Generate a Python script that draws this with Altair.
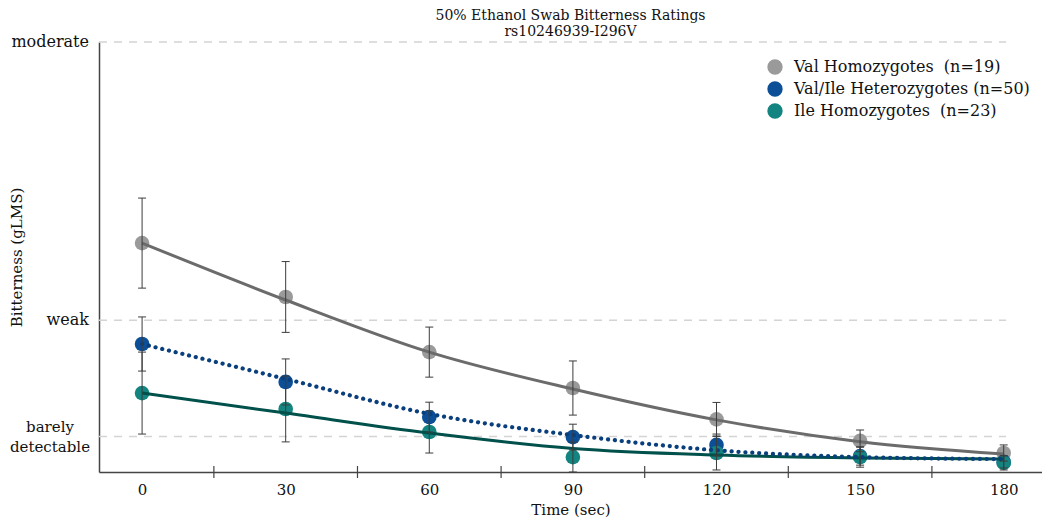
import altair as alt
import pandas as pd

# ---- data ----
times = [0, 30, 60, 90, 120, 150, 180]
groups = ["Val Homozygotes\u00a0 (n=19)", "Val/Ile Heterozygotes (n=50)", "Ile Homozygotes\u00a0 (n=23)"]

val_mean = [9.05, 6.92, 4.74, 3.32, 2.08, 1.23, 0.75]
het_mean = [5.06, 3.56, 2.17, 1.38, 1.07, 0.63, 0.40]
ile_mean = [3.12, 2.49, 1.58, 0.59, 0.75, 0.59, 0.36]

val_se = [1.78, 1.40, 0.99, 1.07, 0.67, 0.43, 0.32]
het_se = [1.07, 0.91, 0.59, 0.51, 0.43, 0.36, 0.24]
ile_se = [1.62, 1.30, 0.83, 0.59, 0.67, 0.40, 0.28]

# fitted decay curves, read at the same time points
val_fit = [9.05, 6.80, 4.74, 3.28, 2.06, 1.20, 0.71]
het_fit = [5.06, 3.68, 2.30, 1.46, 0.86, 0.59, 0.51]
ile_fit = [3.12, 2.33, 1.54, 0.93, 0.67, 0.55, 0.51]

minor_ticks = [15, 45, 75, 105, 135, 165]
x_labels = [0, 30, 60, 90, 120, 150, 180]
grid_levels = [1.4, 6, 17]
grid_names = ["barely detectable", "weak", "moderate"]

point_colors = ["#9a9a9a", "#0c4f97", "#13847f"]
line_colors = ["#6b6b6b", "#0a3f7d", "#00504b"]

FONT = "DejaVu Serif"

rows = []
for g, m, s, f in zip(groups, [val_mean, het_mean, ile_mean], [val_se, het_se, ile_se],
                      [val_fit, het_fit, ile_fit]):
    for t, mm, ss, ff in zip(times, m, s, f):
        rows.append({"group": g, "t": t, "mean": mm, "lo": mm - ss, "hi": mm + ss, "fit": ff})
df = pd.DataFrame(rows)
grid_df = pd.DataFrame({"level": grid_levels, "name": grid_names})
minor_df = pd.DataFrame({"t": minor_ticks})

x_scale = alt.Scale(domain=[-9, 188], nice=False, zero=False)
y_scale = alt.Scale(domain=[0, 17], nice=False, zero=False)

x_axis = alt.Axis(values=x_labels, ticks=False, grid=False, domainColor="#444444", domainWidth=1.5,
                  labelFont=FONT, labelFontSize=15, labelColor="#111111", labelPadding=10,
                  labelFlush=False, title="Time (sec)", titleFont=FONT, titleFontSize=15,
                  titleFontWeight="normal", titleColor="#111111", titleY=37,
                  titleBaseline="middle")
y_axis = alt.Axis(labels=False, ticks=False, grid=False, domainColor="#444444", domainWidth=1.5,
                  title="Bitterness (gLMS)", titleFont=FONT, titleFontSize=15, titleFontWeight="normal",
                  titleColor="#111111", titleX=-83, titleY=215, titleAngle=-90, titleAlign="center",
                  titleBaseline="middle")

X = lambda f: alt.X(f, type="quantitative", scale=x_scale, axis=x_axis)
Y = lambda f: alt.Y(f, type="quantitative", scale=y_scale, axis=y_axis)

grid = alt.Chart(grid_df).mark_rule(color="#d4d4d4", strokeWidth=1.5, strokeDash=[8, 7]).encode(
    y=Y("level"), x=alt.X(datum=-9, type="quantitative", scale=x_scale, axis=x_axis),
    x2=alt.X2(datum=180.5))

minor = alt.Chart(minor_df).mark_rule(color="#444444", strokeWidth=1.2).encode(
    x=X("t"), y=alt.value(424), y2=alt.value(436))

ylab1 = alt.Chart(grid_df[grid_df["level"] > 2]).mark_text(
    align="right", baseline="middle", font=FONT, fontSize=16, color="#111111").encode(
    y=Y("level"), x=alt.value(-10), text="name:N")

ylab2 = alt.Chart(grid_df[grid_df["level"] < 2]).mark_text(
    align="center", baseline="middle", font=FONT, fontSize=15, color="#111111",
    lineBreak=" ", lineHeight=20, dy=-10).encode(
    y=Y("level"), x=alt.value(-49), text="name:N")

points = alt.Chart(df).mark_circle(size=215, opacity=1).encode(
    x=X("t"), y=Y("mean"),
    color=alt.Color("group:N", scale=alt.Scale(domain=groups, range=point_colors),
                    legend=alt.Legend(title=None, orient="none", legendX=668, legendY=17,
                                      symbolType="circle", symbolSize=235, symbolOpacity=1,
                                      symbolStrokeWidth=0, labelFont=FONT, labelFontSize=16,
                                      labelColor="#111111", rowPadding=6, labelOffset=11,
                                      labelLimit=400)))

line_val = alt.Chart(df).transform_filter(alt.datum.group == groups[0]).mark_line(
    color=line_colors[0], strokeWidth=3, interpolate="monotone").encode(x=X("t"), y=Y("fit"))
line_ile = alt.Chart(df).transform_filter(alt.datum.group == groups[2]).mark_line(
    color=line_colors[2], strokeWidth=3, interpolate="monotone").encode(x=X("t"), y=Y("fit"))
line_het = alt.Chart(df).transform_filter(alt.datum.group == groups[1]).mark_line(
    color=line_colors[1], strokeWidth=4.2, strokeDash=[0.1, 6.8], strokeCap="round",
    interpolate="monotone").encode(x=X("t"), y=Y("fit"))

err = alt.Chart(df).mark_rule(color="#3c3c3c", strokeWidth=1).encode(
    x=X("t"), y=Y("lo"), y2="hi")
cap_hi = alt.Chart(df).mark_rule(color="#3c3c3c", strokeWidth=1, xOffset=-4, x2Offset=4).encode(
    x=X("t"), x2="t", y=Y("hi"))
cap_lo = alt.Chart(df).mark_rule(color="#3c3c3c", strokeWidth=1, xOffset=-4, x2Offset=4).encode(
    x=X("t"), x2="t", y=Y("lo"))

chart = alt.layer(grid, minor, ylab1, ylab2, points, line_val, line_ile, line_het,
                  err, cap_hi, cap_lo).properties(
    width=943, height=430,
    title=alt.TitleParams(["50% Ethanol Swab Bitterness Ratings", "rs10246939-I296V"],
                          font=FONT, fontSize=14, fontWeight="normal", color="#111111",
                          anchor="middle", lineHeight=16, offset=6, dy=11),
    autosize=alt.AutoSizeParams(type="none"),
    padding={"left": 91, "top": 34, "right": 0, "bottom": 45},
).configure_view(stroke=None)

chart.save("out.html", embed_options={"renderer": "svg", "actions": False})
